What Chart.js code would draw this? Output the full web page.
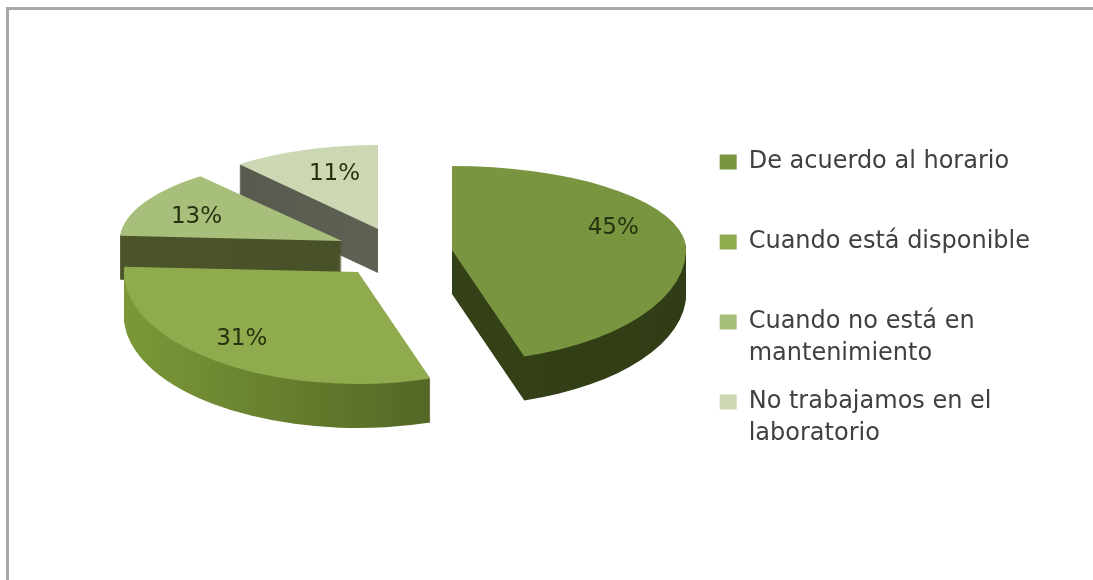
<!DOCTYPE html>
<html>
<head>
<meta charset="utf-8">
<style>
    html, body { margin: 0; padding: 0; background: #fff; overflow: hidden; }
    #frame { position: absolute; left: 6px; top: 7px; width: 1087px; height: 573px; border-top: 3px solid #a8a8a8; border-left: 3px solid #a8a8a8; box-sizing: border-box; }
    canvas { position: absolute; left: 0; top: 0; }
</style>
<script src="https://cdn.jsdelivr.net/npm/chart.js@4/dist/chart.umd.min.js"></script>
</head>
<body>
<div id="frame"></div>
<canvas id="pieChart" width="1093" height="580"></canvas>
<script>
// Chart data
const legendLabels = [
    ['De acuerdo al horario', ''],
    ['Cuando está disponible', ''],
    ['Cuando no está en', 'mantenimiento'],
    ['No trabajamos en el', 'laboratorio']
];
const percentValues = [45, 31, 13, 11];

// Slice colours
const faceColors = ['#7a9540', '#8fab4e', '#a8bf7c', '#cbd8b3'];
const wallColors = [
    ['#3a4819', '#303c15'],
    ['#7b9838', '#3f4d1b'],
    ['#4b5429', '#454d26'],
    ['#53564a', '#6a6c5e']
];

// 3D look: common centre, how far each slice is pulled out, tilt and depth
const pieCenter = { x: 385, y: 245 };
const explode = [[67, 5], [-27, 27], [-43, -4], [-7, -16]];
const sliceWidth = [1, 1, 0.95, 0.93]; // the far slices look narrower
const pieRadius = 234;
const backHeight = 84;
const frontHeight = 112;
const depth = 44;
const drawOrder = [3, 2, 1, 0];
const labelNudge = [[11, -13], [-23, 10], [-10, 1], [8, -4]];

// Runs cb once for the back half and once for the front half of the ellipse
function eachHalf(chart, i, cx, cy, cb) {
    const ctx = chart.ctx;
    const parts = [
        { y: 0, h: cy, height: backHeight },
        { y: cy, h: chart.height - cy, height: frontHeight }
    ];
    parts.forEach(part => {
        ctx.save();
        ctx.beginPath();
        ctx.rect(0, part.y, chart.width, part.h);
        ctx.clip();
        ctx.translate(cx, cy);
        ctx.scale(sliceWidth[i], part.height / pieRadius);
        cb(ctx);
        ctx.restore();
    });
}

const tiltedPie = {
    id: 'tiltedPie',
    beforeDatasetDraw(chart) {
        const arcs = chart.getDatasetMeta(0).data;

        drawOrder.forEach(i => {
            const arc = arcs[i];
            const cx = pieCenter.x + explode[i][0];
            const cy = pieCenter.y + explode[i][1];

            // Side wall, stacked downwards
            for (let k = depth; k >= 1; k--) {
                eachHalf(chart, i, cx, cy + k, ctx => {
                    const gradient = ctx.createLinearGradient(-pieRadius, 0, pieRadius, 0);
                    gradient.addColorStop(0, wallColors[i][0]);
                    gradient.addColorStop(1, wallColors[i][1]);
                    ctx.fillStyle = gradient;
                    ctx.beginPath();
                    ctx.moveTo(0, 0);
                    ctx.arc(0, 0, pieRadius, arc.startAngle, arc.endAngle);
                    ctx.closePath();
                    ctx.fill();
                });
            }

            // Top face
            eachHalf(chart, i, cx, cy, ctx => {
                ctx.translate(-arc.x, -arc.y);
                arc.draw(ctx);
            });
        });

        // Percent labels
        const ctx = chart.ctx;
        ctx.save();
        ctx.font = '23px "DejaVu Sans"';
        ctx.fillStyle = '#26330f';
        ctx.textAlign = 'center';
        ctx.textBaseline = 'middle';
        arcs.forEach((arc, i) => {
            const mid = (arc.startAngle + arc.endAngle) / 2;
            const h = Math.sin(mid) > 0 ? frontHeight : backHeight;
            const x = pieCenter.x + explode[i][0] + Math.cos(mid) * pieRadius * 0.65 + labelNudge[i][0];
            const y = pieCenter.y + explode[i][1] + Math.sin(mid) * h * 0.65 + labelNudge[i][1];
            ctx.fillText(percentValues[i] + '%', x, y);
        });
        ctx.restore();

        return false;
    }
};

new Chart(document.getElementById('pieChart'), {
    type: 'pie',
    data: {
        labels: legendLabels,
        datasets: [{
            data: percentValues,
            backgroundColor: faceColors,
            borderWidth: 0
        }]
    },
    options: {
        responsive: false,
        animation: false,
        radius: pieRadius,
        layout: { padding: { top: 24, right: 53 } },
        plugins: {
            tooltip: { enabled: false },
            legend: {
                position: 'right',
                labels: {
                    boxWidth: 17,
                    boxHeight: 15,
                    padding: 16,
                    color: '#404040',
                    font: { family: '"DejaVu Sans"', size: 24, lineHeight: 1.333 }
                }
            }
        }
    },
    plugins: [tiltedPie]
});
</script>
</body>
</html>
